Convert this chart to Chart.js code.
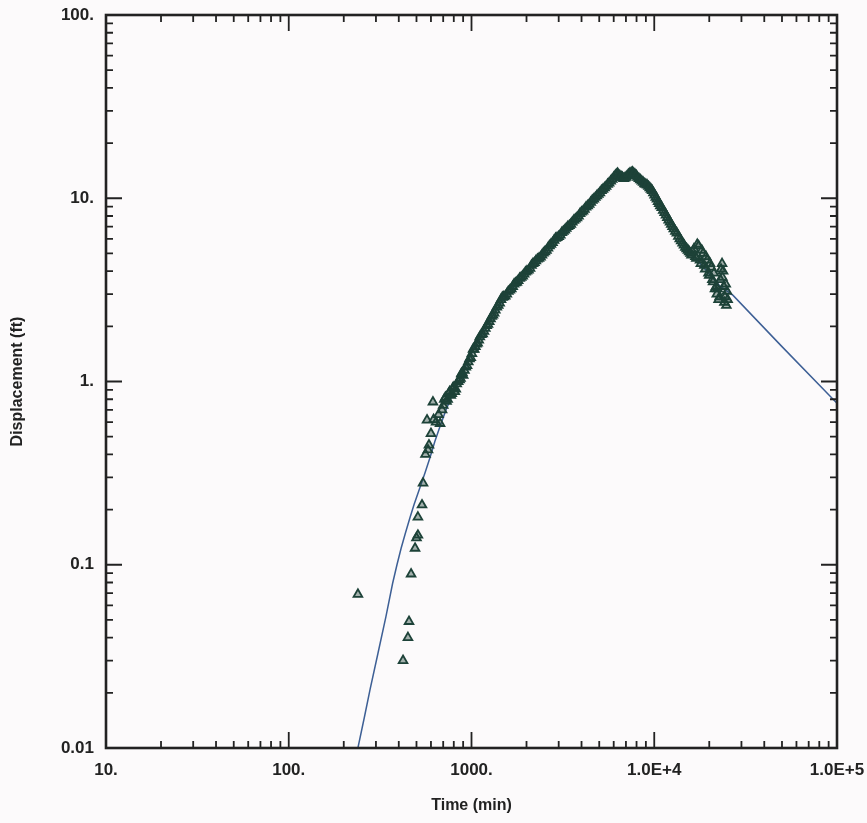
<!DOCTYPE html>
<html><head><meta charset="utf-8">
<script src="https://cdn.jsdelivr.net/npm/chart.js@4/dist/chart.umd.min.js"></script>
<style>html,body{margin:0;padding:0;background:#fcfafb;}#wrap{width:867px;height:823px;position:relative;}</style>
</head><body><div id="wrap"><canvas id="c"></canvas></div>
<script>
// Observed displacement data, first pass of readings (time in min, displacement in ft)
const obsTimeA = [
 239,422,449,455,467,491,500,509,509,536,
 543,560,571,578,585,600,615,620,640,660,
 673,690,710,730,750,770,790,810,830,860,
 880,900,930,960,990,1020,1050,1080,1110,1150,
 1190,1230,1270,1310,1350,1400,1450,1500,1560,1620,
 1680,1740,1800,1870,1940,2010,2090,2170,2250,2340,
 2430,2520,2620,2720,2830,2940,3060,3180,3300,3430,
 3560,3700,3850,4000,4150,4320,4490,4670,4850,5040,
 5240,5450,5660,5890,6120,6300,6500,6700,6900,7100,
 7350,7600,7850,8100,8400,8700,9000,9300,9600,9900,
 10200,10500,10800,11200,11600,12000,12400,12800,13300,13800,
 14300,14800,15300,15800,16000,16500,17000,17500,18000,18500,
 19000,19500,20000,20500,21000,21500,22000,22500,23000,23500,
 23800,24000,24400,24800,25000];
const obsDispA = [
 0.069,0.030,0.040,0.049,0.089,0.123,0.14,0.145,0.182,0.212,
 0.279,0.40,0.616,0.423,0.45,0.52,0.773,0.62,0.60,0.66,
 0.59,0.70,0.80,0.78,0.86,0.84,0.92,0.88,0.97,1.02,
 1.10,1.08,1.20,1.28,1.35,1.50,1.55,1.62,1.75,1.82,
 1.95,2.05,2.20,2.30,2.45,2.60,2.80,2.90,3.00,3.15,
 3.30,3.45,3.55,3.70,3.85,4.00,4.15,4.40,4.55,4.70,
 4.90,5.10,5.35,5.60,5.90,6.10,6.30,6.60,6.85,7.10,
 7.40,7.70,8.00,8.40,8.70,9.10,9.50,9.90,10.3,10.7,
 11.2,11.6,12.1,12.7,13.3,13.7,13.2,13.0,12.9,13.2,
 13.7,13.9,13.5,13.0,12.6,12.2,11.9,11.6,11.2,10.7,
 10.1,9.6,9.1,8.6,8.1,7.6,7.2,6.8,6.45,6.0,
 5.7,5.4,5.2,5.0,4.9,5.3,4.7,5.5,4.4,5.0,
 4.1,4.6,3.8,4.2,3.5,3.2,3.0,2.8,3.6,4.4,
 4.0,3.3,2.9,2.6,3.1];
// Observed displacement data, second pass of readings
const obsTimeB = [
 700,720,740,760,780,800,820,845,870,890,
 915,945,975,1005,1035,1065,1095,1130,1170,1210,
 1250,1290,1330,1375,1425,1475,1530,1590,1650,1710,
 1770,1835,1905,1975,2050,2130,2210,2295,2385,2475,
 2570,2670,2775,2885,3000,3120,3240,3365,3495,3630,
 3775,3925,4075,4235,4405,4580,4760,4945,5140,5345,
 5555,5775,6005,6200,6400,6600,6800,7000,7220,7480,
 7720,7980,8250,8550,8850,9150,9450,9750,10050,10350,
 10650,11000,11400,11800,12200,12600,13050,13550,14050,14550,
 15050,15550,16200,16800,17200,17800,18200,18800,19200,19800,
 20200,20800,21200,21800,22200,22800,23200,23600,24200,24600,
 25200];
const obsDispB = [
 0.74,0.82,0.80,0.88,0.86,0.93,0.91,1.00,1.04,1.12,
 1.15,1.22,1.33,1.42,1.50,1.60,1.68,1.80,1.88,2.02,
 2.12,2.27,2.36,2.55,2.68,2.88,2.92,3.10,3.20,3.40,
 3.48,3.66,3.76,3.95,4.05,4.30,4.45,4.65,4.78,5.02,
 5.20,5.50,5.72,6.05,6.18,6.50,6.70,7.00,7.20,7.58,
 7.82,8.25,8.50,8.95,9.25,9.75,10.1,10.5,11.0,11.4,
 11.9,12.4,13.0,13.5,13.4,13.1,12.8,13.0,13.5,13.8,
 13.7,13.3,12.8,12.4,12.0,11.8,11.4,11.0,10.4,9.9,
 9.35,8.9,8.35,7.85,7.4,7.0,6.6,6.2,5.85,5.55,
 5.3,5.1,5.1,4.8,5.6,4.6,5.2,4.3,4.8,3.9,
 4.4,3.6,3.9,3.3,3.2,2.9,4.1,3.7,2.7,3.4,
 2.8];
// Fitted curve
const fitTime = [239,260,279,308,340,370,391,412,435,460,485,523,558,593,630,673,725,780,840,897,970,1050,1150,1262,1380,1500,1630,1774,2100,2590,3200,4000,5000,6000,7000,7600,8500,9500,11000,13000,15700,19000,23000,27000,50000,100000];
const fitDisp = [0.01,0.0149,0.021,0.033,0.052,0.079,0.100,0.123,0.149,0.180,0.213,0.265,0.32,0.385,0.47,0.57,0.70,0.83,0.97,1.12,1.33,1.58,1.87,2.17,2.5,2.8,3.1,3.44,4.2,5.3,6.6,8.3,10.3,12.2,13.6,13.5,12.6,11.3,9.0,6.8,5.1,4.1,3.3,2.95,1.55,0.76];
// Tick labels
const xTickValues = [10,100,1000,10000,100000];
const xTickLabels = ['10.','100.','1000.','1.0E+4','1.0E+5'];
const yTickValues = [0.01,0.1,1,10,100];
const yTickLabels = ['0.01','0.1','1.','10.','100.'];

const ink = '#222222';
const tickFont = {family:'"Liberation Sans", Arial, sans-serif', weight:'bold', size:17};
const titleFont = {family:'"Liberation Sans", Arial, sans-serif', weight:'bold', size:16};

const frameTicks = {
  id:'frameTicks',
  afterDatasetsDraw(chart){
    const {ctx, chartArea:a, scales:{x,y}} = chart;
    ctx.save();
    ctx.strokeStyle = ink;
    ctx.lineWidth = 1.8;
    ctx.beginPath();
    const majL = 16, minL = 7;
    xTickValues.forEach((d,i)=>{
      for(let m=1;m<=9;m++){
        if(i===xTickValues.length-1 && m>1) break;
        const px = x.getPixelForValue(d*m);
        const L = m===1?majL:minL;
        ctx.moveTo(px,a.bottom); ctx.lineTo(px,a.bottom-L);
        ctx.moveTo(px,a.top); ctx.lineTo(px,a.top+L);
      }
    });
    yTickValues.forEach((d,i)=>{
      for(let m=1;m<=9;m++){
        if(i===yTickValues.length-1 && m>1) break;
        const py = y.getPixelForValue(d*m);
        const L = m===1?majL:minL;
        ctx.moveTo(a.left,py); ctx.lineTo(a.left+L,py);
        ctx.moveTo(a.right,py); ctx.lineTo(a.right-L,py);
      }
    });
    ctx.stroke();
    ctx.lineWidth = 2.6;
    ctx.strokeRect(a.left,a.top,a.right-a.left,a.bottom-a.top);
    ctx.restore();
  }
};

const bgPlugin = {id:'bg', beforeDraw(chart){const c=chart.ctx;c.save();c.fillStyle='#fcfafb';c.fillRect(0,0,chart.width,chart.height);c.restore();}};

const obsPoints = obsTimeA.map((t,i)=>({x:t,y:obsDispA[i]})).concat(obsTimeB.map((t,i)=>({x:t,y:obsDispB[i]})));

new Chart(document.getElementById('c'), {
  type:'scatter',
  data:{datasets:[
    {label:'Observed', data: obsPoints, pointStyle:'triangle', pointRadius:5, borderWidth:1.8, borderColor:'#1d4238', backgroundColor:'rgba(29,66,56,0.4)', showLine:false, order:0},
    {label:'Fit', data: fitTime.map((t,i)=>({x:t,y:fitDisp[i]})), showLine:true, borderColor:'#3d5f95', borderWidth:1.5, pointRadius:0, tension:0, order:1}
  ]},
  options:{
    responsive:true, maintainAspectRatio:false, animation:false,
    layout:{padding:{left:0,right:30,top:15,bottom:5}},
    plugins:{legend:{display:false}, tooltip:{enabled:false}},
    scales:{
      x:{type:'logarithmic', min:10, max:100000,
        afterBuildTicks(s){s.ticks = xTickValues.map(v=>({value:v}));},
        afterFit(s){s.height = 70; s.paddingLeft = 0; s.paddingRight = 0;},
        ticks:{callback:(v)=>xTickLabels[xTickValues.indexOf(v)], font:tickFont, color:ink, padding:12, maxRotation:0, autoSkip:false},
        grid:{display:false, drawTicks:false, tickLength:0}, border:{display:false},
        title:{display:true, text:'Time (min)', font:titleFont, color:ink, padding:{top:4,bottom:3}}
      },
      y:{type:'logarithmic', min:0.01, max:100,
        afterBuildTicks(s){s.ticks = yTickValues.map(v=>({value:v}));},
        afterFit(s){s.width = 106; s.paddingTop = 0; s.paddingBottom = 0;},
        ticks:{callback:(v)=>yTickLabels[yTickValues.indexOf(v)], font:tickFont, color:ink, padding:12, autoSkip:false},
        grid:{display:false, drawTicks:false, tickLength:0}, border:{display:false},
        title:{display:true, text:'Displacement (ft)', font:titleFont, color:ink, padding:{top:8,bottom:0}}
      }
    }
  },
  plugins:[bgPlugin, frameTicks]
});
</script></body></html>
